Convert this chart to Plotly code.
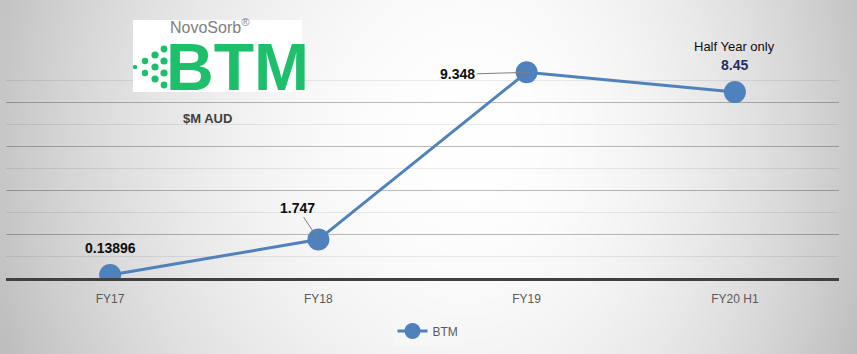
import base64, struct, zlib
import numpy as np
import plotly.graph_objects as go

categories = ["FY17", "FY18", "FY19", "FY20 H1"]
btm_values = [0.13896, 1.747, 9.348, 8.45]
label_texts = ["0.13896", "1.747", "9.348", "8.45"]
series_name = "BTM"

W, H = 857, 354
ML, MR, MT, MB = 6, 18, 58, 76
PW, PH = W - ML - MR, H - MT - MB


def px(x):
    return (x - ML) / PW


def py(y):
    return (H - MB - y) / PH


def gray_png(arr):
    h, w = arr.shape
    raw = b"".join(b"\x00" + arr[i].tobytes() for i in range(h))

    def chunk(tag, data):
        c = tag + data
        return struct.pack(">I", len(data)) + c + struct.pack(">I", zlib.crc32(c) & 0xffffffff)

    png = b"\x89PNG\r\n\x1a\n" + chunk(b"IHDR", struct.pack(">IIBBBBB", w, h, 8, 0, 0, 0, 0)) \
        + chunk(b"IDAT", zlib.compress(raw, 9)) + chunk(b"IEND", b"")
    return "data:image/png;base64," + base64.b64encode(png).decode()


# radial background gradient (style only)
gw, gh = 214, 88
xs = np.linspace(0, W, gw)[None, :]
ys = np.linspace(0, H, gh)[:, None]
cx, cy = 470.0, 140.0
dx = np.where(xs < cx, (xs - cx) / 480.0, (xs - cx) / 400.0)
dy = (ys - cy) / 520.0
d2 = dx ** 2 + dy ** 2
bg = np.clip(255 - 58 * d2, 190, 255).astype(np.uint8)
bg_src = gray_png(bg)

blue = "#4F81BD"
fig = go.Figure()
fig.add_trace(go.Scatter(
    x=categories, y=btm_values, name=series_name, mode="lines+markers",
    line=dict(color=blue, width=3),
    marker=dict(size=22, color=blue),
))

fig.update_layout(
    width=W, height=H,
    margin=dict(l=ML, r=MR, t=MT, b=MB),
    paper_bgcolor="rgba(0,0,0,0)",
    plot_bgcolor="rgba(0,0,0,0)",
    font=dict(family="Liberation Sans, Arial, sans-serif", color="#595959"),
    showlegend=True,
    legend=dict(
        orientation="h", x=px(428), y=py(331), xanchor="center", yanchor="middle",
        bgcolor="#f7f7f7", font=dict(size=12, color="#595959"),
    ),
    images=[dict(
        source=bg_src, xref="paper", yref="paper", x=px(0), y=py(0),
        sizex=W / PW, sizey=H / PH, xanchor="left", yanchor="top",
        sizing="stretch", layer="below",
    )],
)

fig.update_xaxes(
    range=[-0.5, len(categories) - 0.5],
    showgrid=False, showline=True, linecolor="#404040", linewidth=3,
    ticks="", tickfont=dict(size=12, color="#595959"), ticklabelstandoff=8,
    fixedrange=True,
)
fig.update_yaxes(
    range=[0, 10], tickmode="array", tickvals=[2, 4, 6, 8],
    showgrid=True, gridcolor="rgba(0,0,0,0.2)", gridwidth=1,
    minor=dict(tickmode="linear", tick0=0, dtick=1, showgrid=True,
               gridcolor="rgba(0,0,0,0.08)", gridwidth=1),
    showticklabels=False, zeroline=False, showline=False, fixedrange=True,
)

# data labels
lbl_font = dict(family="Liberation Sans, Arial, sans-serif", size=14, color="#0d0d0d")
fig.add_annotation(x=categories[0], y=btm_values[0], text="<b>%s</b>" % label_texts[0],
                   showarrow=False, yshift=27, font=lbl_font)
fig.add_annotation(x=categories[1], y=btm_values[1], text="<b>%s</b>" % label_texts[1],
                   showarrow=True, ax=-21, ay=-32, arrowhead=0, arrowwidth=1,
                   arrowcolor="#7f7f7f", standoff=0, font=lbl_font)
fig.add_annotation(x=categories[2], y=btm_values[2], text="<b>%s</b>" % label_texts[2],
                   showarrow=True, ax=-69, ay=2, arrowhead=0, arrowwidth=1,
                   arrowcolor="#7f7f7f", standoff=0, font=lbl_font)
fig.add_annotation(x=categories[3], y=btm_values[3], text="<b>%s</b>" % label_texts[3],
                   showarrow=False, yshift=27,
                   font=dict(family="Liberation Sans, Arial, sans-serif", size=14, color="#1f2f66"))
fig.add_annotation(x=categories[3], y=btm_values[3], text="Half Year only",
                   showarrow=False, yshift=46,
                   font=dict(family="Liberation Sans, Arial, sans-serif", size=13, color="#0d0d0d"))

# logo
shapes = [dict(type="rect", xref="paper", yref="paper", x0=px(133), x1=px(302),
               y0=py(92), y1=py(20), fillcolor="white", line=dict(width=0), layer="above")]
green = "#1DBF6A"
dots = [(135, 67, 2.2), (145, 61, 3.2), (145, 73, 3.2),
        (155, 55, 3.6), (155, 67, 3.6), (155, 79, 3.6),
        (164, 49, 3.4), (164, 61, 3.6), (164, 73, 3.6), (164, 85, 3.4)]
for (dxp, dyp, r) in dots:
    shapes.append(dict(type="circle", xref="paper", yref="paper",
                       x0=px(dxp - r), x1=px(dxp + r), y0=py(dyp + r), y1=py(dyp - r),
                       fillcolor=green, line=dict(width=0), layer="above"))
fig.update_layout(shapes=shapes)

fig.add_annotation(xref="paper", yref="paper", x=px(210), y=py(26),
                   text="NovoSorb<sup>®</sup>",
                   showarrow=False, xanchor="center", yanchor="middle",
                   font=dict(family="Liberation Sans, Arial, sans-serif", size=16, color="#808080"))
fig.add_annotation(xref="paper", yref="paper", x=px(237), y=py(67), text="<b>BTM</b>",
                   showarrow=False, xanchor="center", yanchor="middle",
                   font=dict(family="Liberation Sans, Arial, sans-serif", size=66, color=green))
fig.add_annotation(xref="paper", yref="paper", x=px(207), y=py(118), text="<b>$M AUD</b>",
                   showarrow=False, xanchor="center", yanchor="middle",
                   font=dict(family="Liberation Sans, Arial, sans-serif", size=13, color="#404040"))

fig.write_html("out.html")
